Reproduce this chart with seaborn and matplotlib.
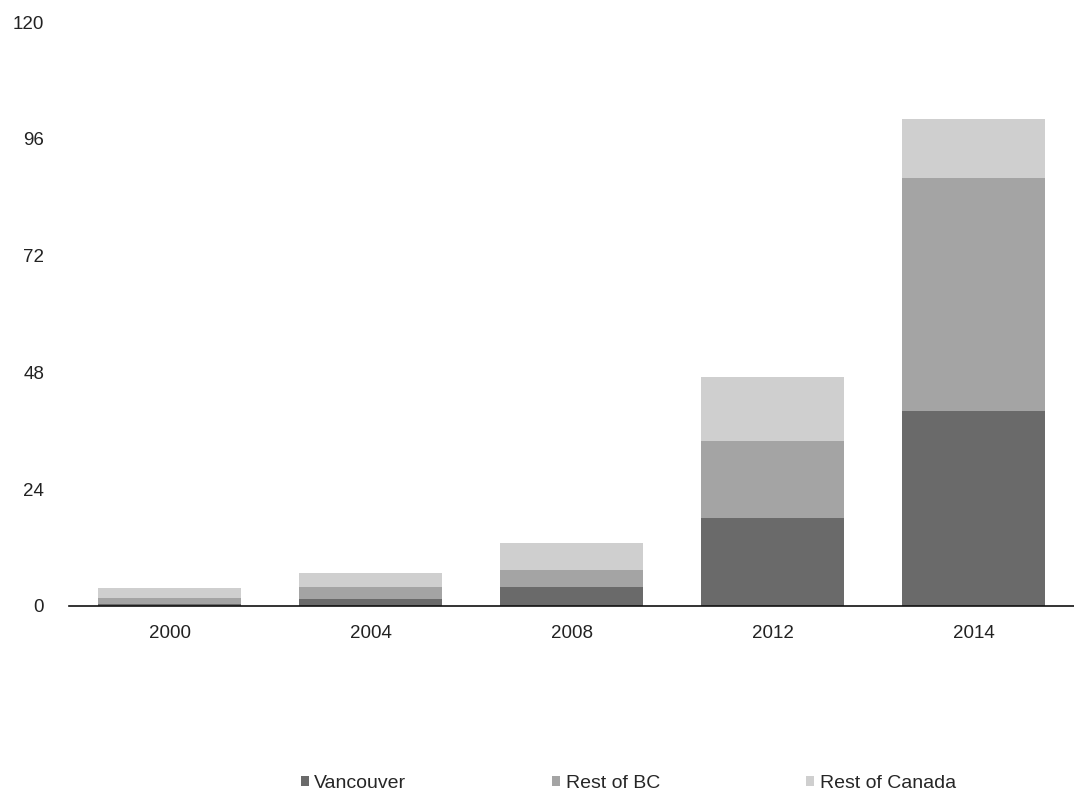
import matplotlib
matplotlib.use("Agg")
import matplotlib.pyplot as plt
import seaborn as sns
import pandas as pd
import numpy as np
from matplotlib.patches import Patch

# Stacked totals by region
years = ["2000", "2004", "2008", "2012", "2014"]
vancouver = [0.5, 1.5, 4.0, 18.0, 40.0]
rest_of_bc = [1.2, 2.5, 3.5, 16.0, 48.0]
rest_of_canada = [2.0, 2.8, 5.5, 13.0, 12.0]
series_names = ["Vancouver", "Rest of BC", "Rest of Canada"]
series_colors = ["#6a6a6a", "#a4a4a4", "#cfcfcf"]
y_ticks = [0, 24, 48, 72, 96, 120]

sns.set_theme(style="white")
plt.rcParams["font.family"] = ["Liberation Sans", "DejaVu Sans"]

fig = plt.figure(figsize=(10.74, 8.0), dpi=100)
ax = fig.add_axes([69 / 1074, 194 / 800, 1005 / 1074, 584 / 800])

df = pd.DataFrame({"year": years, "Vancouver": vancouver,
                   "Rest of BC": rest_of_bc, "Rest of Canada": rest_of_canada})

bottom = np.zeros(len(years))
for name, color in zip(series_names, series_colors):
    sns.barplot(data=df, x="year", y=name, color=color, width=0.71,
                bottom=bottom, ax=ax, saturation=1, edgecolor="none")
    bottom = bottom + df[name].to_numpy()

ax.set_xlim(-0.5, 4.5)
ax.set_ylim(0, 120)
ax.set_yticks(y_ticks)
ax.set_yticklabels([str(t) for t in y_ticks])
ax.set_xlabel("")
ax.set_ylabel("")
ax.tick_params(axis="both", length=0, labelsize=13.5, colors="#222222")
ax.tick_params(axis="y", pad=18)
ax.tick_params(axis="x", pad=14)
for side in ["top", "right", "left"]:
    ax.spines[side].set_visible(False)
ax.spines["bottom"].set_color("#111111")
ax.spines["bottom"].set_linewidth(1.2)

handles = [Patch(facecolor=c, edgecolor="none") for c in series_colors]
fig.legend(handles, series_names, loc="center", bbox_to_anchor=(0.585, 0.021),
           ncol=3, frameon=False, fontsize=14, handlelength=0.4,
           handleheight=0.4, handletextpad=0.3, columnspacing=7.5)

fig.savefig("out.png", dpi=100, facecolor="white")
